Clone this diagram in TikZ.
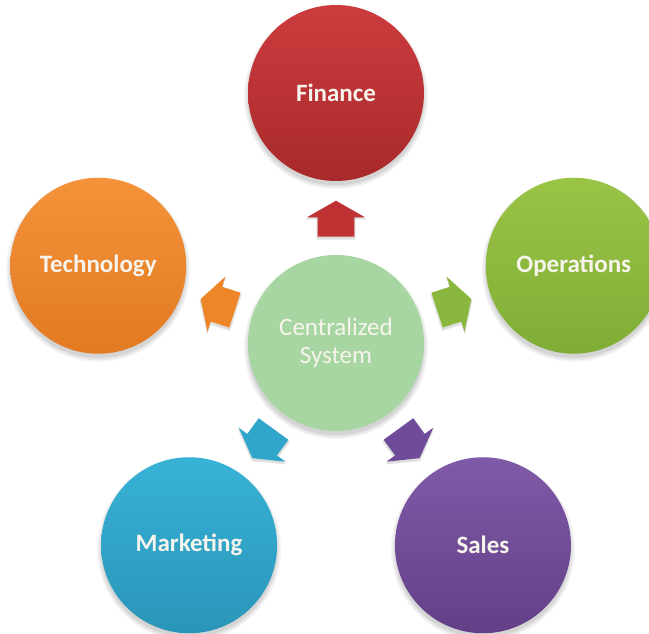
\documentclass[tikz,border=0pt]{standalone}
\usepackage{fontspec}
\setmainfont{Carlito}
\usetikzlibrary{calc,backgrounds}

\definecolor{labeltext}{HTML}{F6F4EC}
\definecolor{hubfill}{HTML}{A7D6A3}
\definecolor{finTop}{HTML}{CC3C3E}\definecolor{finBot}{HTML}{A8292B}
\definecolor{opsTop}{HTML}{9AC446}\definecolor{opsBot}{HTML}{80AD36}
\definecolor{tecTop}{HTML}{F4933A}\definecolor{tecBot}{HTML}{E27A22}
\definecolor{mktTop}{HTML}{37B2D6}\definecolor{mktBot}{HTML}{2A95B9}
\definecolor{salTop}{HTML}{7F5AA8}\definecolor{salBot}{HTML}{633F87}
\definecolor{finArrow}{HTML}{BE3234}
\definecolor{opsArrow}{HTML}{8AB73D}
\definecolor{tecArrow}{HTML}{EE8628}
\definecolor{mktArrow}{HTML}{30A6CB}
\definecolor{salArrow}{HTML}{6F4C9A}

\tikzset{
  bubble/.style={circle, minimum size=176pt, inner sep=0pt, text=labeltext,
    font=\bfseries\fontsize{25}{28}\selectfont, align=center},
  hub/.style={bubble, fill=hubfill, font=\fontsize{25}{28}\selectfont},
  softshade/.style={fill=black, opacity=0.045}
}

% block arrow halfway between two nodes, pointing along the given angle,
% with a faint shadow offset downwards on the page
\newcommand\spoke[4]{%
  \begin{scope}[shift={($(#1)!0.5!(#2)$)}, rotate=#3]
    \foreach \g in {1.5,1,0.5}
      \path[softshade, shift={(-90-#3:2pt)}]
        (17.3+\g,0) -- (0.7,29+\g) -- (0.7,18.3+\g) -- (-18.7-\g,18.3+\g)
        -- (-18.7-\g,-18.3-\g) -- (0.7,-18.3-\g) -- (0.7,-29-\g) -- cycle;
    \path[fill=#4] (17.3,0) -- (0.7,29) -- (0.7,18.3) -- (-18.7,18.3)
      -- (-18.7,-18.3) -- (0.7,-18.3) -- (0.7,-29) -- cycle;
  \end{scope}}

\begin{document}
\begin{tikzpicture}[x=1pt, y=1pt]
  \useasboundingbox (0,0) rectangle (649,634);
  \clip (0,0) rectangle (649,634);

  \node[hub] (cen) at (336,291) {Centralized\\System};

  \node[bubble, top color=finTop, bottom color=finBot] (fin)
    at ($(cen)+(90:250pt)$) {Finance};
  \node[bubble, top color=opsTop, bottom color=opsBot] (ops)
    at ($(cen)+(18:250pt)$) {Operations};
  \node[bubble, top color=tecTop, bottom color=tecBot] (tec)
    at ($(cen)+(162:250pt)$) {Technology};
  \node[bubble, top color=mktTop, bottom color=mktBot] (mkt)
    at ($(cen)+(234:250pt)$) {Marketing};
  \node[bubble, top color=salTop, bottom color=salBot] (sal)
    at ($(cen)+(306:250pt)$) {Sales};

  % soft drop shadows under the circles
  \begin{scope}[on background layer]
    \fill[white] (0,0) rectangle (649,634);
    \foreach \n in {cen,fin,ops,tec,mkt,sal}
      \foreach \r in {92,90.5,89,88}
        \fill[softshade] ($(\n)+(0,-4)$) circle (\r pt);
  \end{scope}

  \spoke{cen}{fin}{90}{finArrow}
  \spoke{cen}{ops}{18}{opsArrow}
  \spoke{cen}{tec}{162}{tecArrow}
  \spoke{cen}{mkt}{234}{mktArrow}
  \spoke{cen}{sal}{306}{salArrow}
\end{tikzpicture}
\end{document}
